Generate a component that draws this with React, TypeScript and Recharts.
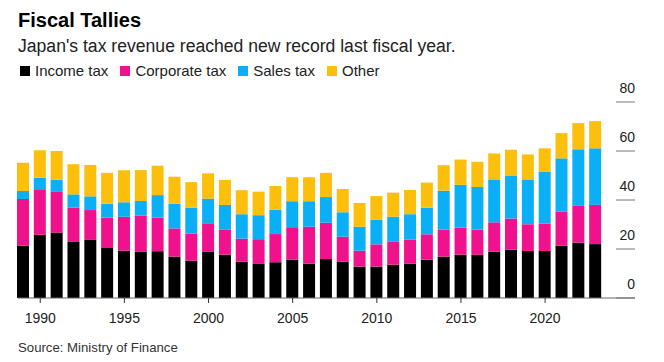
import React from 'react';
import { BarChart, Bar, XAxis, YAxis } from 'recharts';

const years = [
  1989, 1990, 1991, 1992, 1993, 1994, 1995, 1996, 1997, 1998, 1999, 2000,
  2001, 2002, 2003, 2004, 2005, 2006, 2007, 2008, 2009, 2010, 2011, 2012,
  2013, 2014, 2015, 2016, 2017, 2018, 2019, 2020, 2021, 2022, 2023,
];

// trillion yen
const incomeTax = [
  21.4, 25.8, 26.7, 23.1, 23.7, 20.4, 19.3, 18.8, 19.1, 16.9, 15.2, 18.8,
  17.7, 14.8, 13.9, 14.6, 15.6, 14.0, 15.9, 14.8, 12.8, 12.8, 13.6, 14.0,
  15.6, 16.9, 17.7, 17.6, 18.9, 19.7, 19.2, 19.2, 21.4, 22.6, 22.0,
];
const corporateTax = [
  19.0, 18.6, 16.6, 13.8, 12.2, 12.4, 13.9, 14.8, 13.7, 11.5, 11.0, 11.7,
  10.3, 9.4, 10.1, 11.5, 13.3, 15.1, 14.8, 10.2, 6.5, 9.1, 9.3, 9.8,
  10.4, 11.0, 11.0, 10.3, 12.0, 12.7, 10.9, 11.2, 13.8, 15.0, 16.0,
];
const salesTax = [
  3.3, 4.7, 5.0, 5.4, 5.6, 5.7, 5.9, 6.0, 9.2, 10.1, 10.7, 10.0,
  10.0, 10.0, 9.8, 9.9, 10.6, 10.4, 10.5, 10.0, 9.8, 10.0, 10.3, 10.4,
  10.9, 15.9, 17.5, 17.4, 17.5, 17.4, 18.3, 21.2, 21.8, 23.1, 23.1,
];
const otherTax = [
  11.5, 11.2, 11.7, 12.3, 12.8, 12.6, 13.0, 12.6, 12.0, 11.0, 10.4, 10.4,
  10.2, 9.8, 9.6, 9.7, 9.8, 9.8, 9.9, 9.5, 9.7, 9.7, 9.8, 9.9,
  10.2, 10.4, 10.3, 10.3, 10.6, 10.7, 10.2, 9.5, 10.3, 10.7, 11.1,
];

const yTicks = [0, 20, 40, 60, 80];

const series = [
  { key: 'income', name: 'Income tax', color: '#000000' },
  { key: 'corporate', name: 'Corporate tax', color: '#f0128c' },
  { key: 'sales', name: 'Sales tax', color: '#0aaff5' },
  { key: 'other', name: 'Other', color: '#fbbf0c' },
];

const data = years.map((year, i) => ({
  year,
  income: incomeTax[i],
  corporate: corporateTax[i],
  sales: salesTax[i],
  other: otherTax[i],
}));

const FONT = '"Liberation Sans", Arial, sans-serif';

const XTick = (props: any) => {
  const { x, y, payload } = props;
  if (payload.value % 5 !== 0) return null;
  return (
    <g>
      <line x1={x} x2={x} y1={y} y2={y + 5} stroke="#333" strokeWidth={1} />
      <text x={x} y={y + 25} textAnchor="middle" fontSize={14} fill="#222" fontFamily={FONT}>
        {payload.value}
      </text>
    </g>
  );
};

const YTick = (props: any) => {
  const { x, y, payload } = props;
  return (
    <g>
      <line x1={x - 19} x2={x} y1={y} y2={y} stroke="#777" strokeWidth={1} />
      <text x={x} y={y - 9} textAnchor="end" fontSize={14} fill="#222" fontFamily={FONT}>
        {payload.value}
      </text>
    </g>
  );
};

export default function App() {
  return (
    <div
      style={{
        position: 'absolute',
        left: 0,
        top: 0,
        width: 664,
        height: 362,
        background: '#fff',
        fontFamily: FONT,
        color: '#222',
      }}
    >
      <div style={{ position: 'absolute', left: 18, top: 10, fontSize: 20, lineHeight: '20px', fontWeight: 'bold', color: '#000' }}>
        Fiscal Tallies
      </div>
      <div style={{ position: 'absolute', left: 18, top: 38, fontSize: 17.6, lineHeight: '16px' }}>
        Japan's tax revenue reached new record last fiscal year.
      </div>
      <div style={{ position: 'absolute', left: 20, top: 64, display: 'flex', fontSize: 15, lineHeight: '14px' }}>
        {series.map((s) => (
          <div key={s.key} style={{ display: 'flex', alignItems: 'center', marginRight: 12 }}>
            <span style={{ display: 'inline-block', width: 10, height: 10, background: s.color, marginRight: 5 }} />
            <span>{s.name}</span>
          </div>
        ))}
      </div>

      <BarChart
        width={664}
        height={362}
        data={data}
        margin={{ top: 102, right: 0, bottom: 0, left: 18 }}
        barSize={12}
      >
        <XAxis
          dataKey="year"
          interval={0}
          height={64}
          tick={<XTick />}
          tickLine={false}
          tickSize={0}
          tickMargin={0}
          axisLine={{ stroke: '#666' }}
          padding={{ left: -3, right: 31 }}
        />
        <YAxis
          orientation="right"
          width={29}
          domain={[0, 80]}
          ticks={yTicks}
          tick={<YTick />}
          tickLine={false}
          tickSize={0}
          tickMargin={0}
          axisLine={false}
        />
        {series.map((s) => (
          <Bar key={s.key} dataKey={s.key} name={s.name} stackId="tax" fill={s.color} isAnimationActive={false} />
        ))}
      </BarChart>

      <div style={{ position: 'absolute', left: 18, top: 341, fontSize: 13.2, lineHeight: '13px', color: '#333' }}>
        Source: Ministry of Finance
      </div>
    </div>
  );
}
